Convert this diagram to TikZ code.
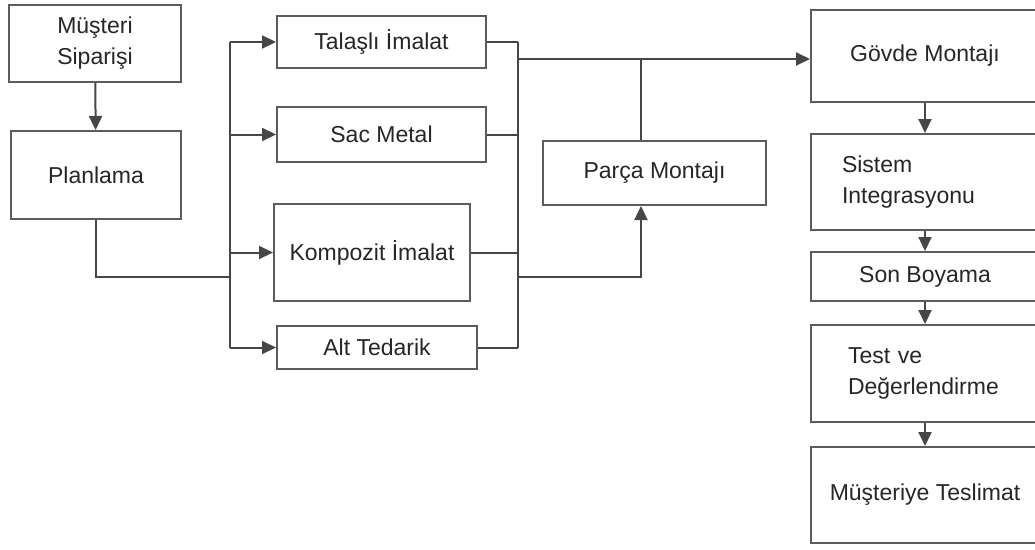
\documentclass[tikz,border=0pt]{standalone}
\usepackage{fontspec}
\setmainfont{Liberation Sans}
\usepackage{tikz}
\usetikzlibrary{arrows.meta,calc}
\definecolor{cerceve}{RGB}{92,92,92}
\definecolor{cizgi}{RGB}{70,70,70}
\definecolor{yazi}{RGB}{38,38,38}

\begin{document}
\begin{tikzpicture}[x=1pt,y=-1pt,
    kutu/.style={draw=cerceve,line width=2pt,fill=white,align=center,text=yazi,
                 font=\fontsize{23}{31}\selectfont,inner sep=0pt},
    hat/.style={cizgi,line width=2pt},
    ok/.style={hat,-{Triangle[length=14pt,width=13pt]}}]
  \useasboundingbox[fill=white] (0,0) rectangle (1035,549);
  % sol sutun
  \node[kutu,minimum width=172,minimum height=77] (sip) at (95,43.5) {Müşteri\\Siparişi};
  \node[kutu,minimum width=170,minimum height=88] (plan) at (96,175) {Planlama};
  % uretim kollari
  \node[kutu,minimum width=209,minimum height=52] (tal) at (381.5,42) {Talaşlı İmalat};
  \node[kutu,minimum width=209,minimum height=55] (sac) at (381.5,134.5) {Sac Metal};
  \node[kutu,minimum width=196,minimum height=97] (komp) at (372,252.5) {Kompozit İmalat};
  \node[kutu,minimum width=200,minimum height=43] (alt) at (377,347.5) {Alt Tedarik};
  \node[kutu,minimum width=223,minimum height=64] (parca) at (654.5,173) {Parça Montajı};
  % sag sutun
  \node[kutu,minimum width=228,minimum height=92] (govde) at (925,56) {Gövde Montajı};
  \node[kutu,minimum width=228,minimum height=96,text width=166,align=left] (sis) at (925,182) {Sistem\\Integrasyonu};
  \node[kutu,minimum width=228,minimum height=49] (son) at (925,276.5) {Son Boyama};
  \node[kutu,minimum width=228,minimum height=97,text width=154,align=left] (test) at (925,373.5) {Test ve\\Değerlendirme};
  \node[kutu,minimum width=228,minimum height=96] (tes) at (925,495) {Müşteriye Teslimat};
  \coordinate (busl) at (230,277);
  \coordinate (busr) at (518,277);
  \coordinate (ust) at (518,59);
  \coordinate (kav) at (641,59);
  \draw[ok] (sip) -- (plan);
  \draw[hat] (plan.south) |- (busl);
  \draw[hat] (tal.west -| busl) -- (alt.west -| busl);
  \foreach \n in {tal,sac,komp,alt} \draw[ok] (\n.west -| busl) -- (\n.west);
  \foreach \n in {tal,sac,komp,alt} \draw[hat] (\n.east) -- (\n.east -| busr);
  \draw[hat] (tal.east -| busr) -- (alt.east -| busr);
  \draw[ok] (ust) -- (ust -| govde.west);
  \draw[hat] (kav) -- (kav |- parca.north);
  \draw[ok] (busr) -| (kav |- parca.south);
  \foreach \u/\v in {govde/sis,sis/son,son/test,test/tes} \draw[ok] (\u) -- (\v);
\end{tikzpicture}
\end{document}
